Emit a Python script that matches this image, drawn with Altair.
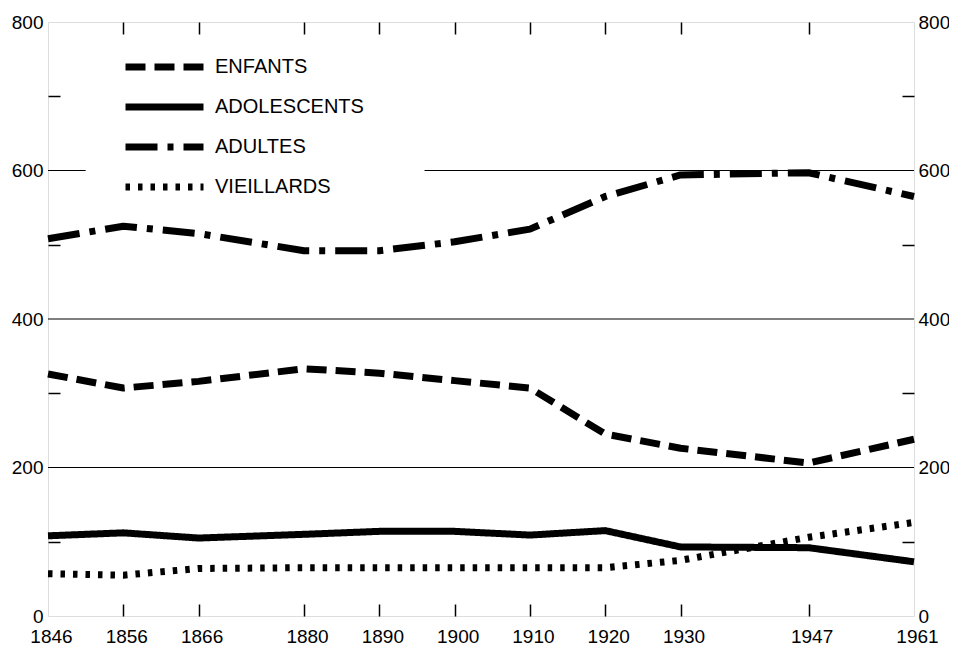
import altair as alt
import pandas as pd

years = [1846, 1856, 1866, 1880, 1890, 1900, 1910, 1920, 1930, 1947, 1961]
enfants = [326, 307, 316, 333, 327, 317, 307, 245, 226, 206, 238]
adolescents = [108, 112, 105, 110, 114, 114, 109, 115, 93, 92, 73]
adultes = [508, 525, 515, 492, 492, 504, 521, 565, 594, 597, 565]
vieillards = [57, 55, 64, 65, 65, 65, 65, 65, 75, 106, 126]

series_names = ["ENFANTS", "ADOLESCENTS", "ADULTES", "VIEILLARDS"]
series_values = [enfants, adolescents, adultes, vieillards]

year_labels = [1846, 1856, 1866, 1880, 1890, 1900, 1910, 1920, 1930, 1947, 1961]
inner_years = [1856, 1866, 1880, 1890, 1900, 1910, 1920, 1930, 1947]
y_labels = [0, 200, 400, 600, 800]
y_minor = [100, 300, 500, 700]

grid_y = [200, 400, 600, 600]
grid_x1 = [1846, 1846, 1846, 1896]
grid_x2 = [1961, 1961, 1851, 1961]

rows = []
for name, vals in zip(series_names, series_values):
    for yr, v in zip(years, vals):
        rows.append({"annee": yr, "valeur": v, "serie": name})
df = pd.DataFrame(rows)
grid = pd.DataFrame({"y": grid_y, "x1": grid_x1, "x2": grid_x2})

FONT = "Liberation Sans"
xscale = alt.Scale(domain=[1846, 1961], nice=False, zero=False)
yscale = alt.Scale(domain=[0, 800], nice=False)

grid_layer = alt.Chart(grid).mark_rule(color="black", strokeWidth=1.2).encode(
    x=alt.X("x1:Q", scale=xscale, axis=alt.Axis(
        orient="bottom", values=year_labels, ticks=False, domain=False, grid=False,
        labelPadding=11, labelFontSize=19, title=None, format="d", labelColor="black",
        labelFlush=False, labelOffset=3, labelBound=False, labelOverlap=False)),
    x2="x2:Q",
    y=alt.Y("y:Q", scale=yscale, axis=alt.Axis(
        orient="left", values=y_labels, ticks=False, domain=False, grid=False,
        labelPadding=5, labelFontSize=19, title=None, labelColor="black")),
)

lines = alt.Chart(df).mark_line(color="black", strokeJoin="round", interpolate="linear").encode(
    x=alt.X("annee:Q", scale=xscale, axis=alt.Axis(
        orient="bottom", values=inner_years, labels=False, domain=False, grid=False,
        tickSize=12, offset=-12, tickColor="black", tickWidth=1.5, title=None)),
    y=alt.Y("valeur:Q", scale=yscale, axis=alt.Axis(
        orient="right", values=y_labels, ticks=False, domain=False, grid=False,
        labelPadding=4, labelFontSize=19, title=None, labelColor="black")),
    strokeDash=alt.StrokeDash("serie:N", scale=alt.Scale(
        domain=series_names,
        range=[[20, 9], [1, 0], [32, 10, 6, 10], [4.5, 8]]),
        legend=alt.Legend(orient="none", legendX=74, legendY=34, title=None,
                          symbolType="stroke", symbolSize=6084, symbolStrokeWidth=6,
                          symbolStrokeColor="black", clipHeight=22, rowPadding=18,
                          labelFontSize=20, labelFont=FONT, labelOffset=8,
                          labelColor="black", padding=0)),
    strokeWidth=alt.StrokeWidth("serie:N", scale=alt.Scale(
        domain=series_names, range=[7, 7, 7, 4.5]), legend=None),
)

ticks_a = alt.Chart(df).mark_point(opacity=0).encode(
    x=alt.X("annee:Q", scale=xscale, axis=alt.Axis(
        orient="top", values=inner_years, labels=False, domain=False, grid=False,
        tickSize=12, offset=-12, tickColor="black", tickWidth=1.5, title=None)),
    y=alt.Y("valeur:Q", scale=yscale, axis=alt.Axis(
        orient="left", values=y_minor, labels=False, domain=False, grid=False,
        tickSize=12, offset=-12, tickColor="black", tickWidth=1.5, title=None)),
)

ticks_b = alt.Chart(df).mark_point(opacity=0).encode(
    x=alt.X("annee:Q", scale=xscale, axis=None),
    y=alt.Y("valeur:Q", scale=yscale, axis=alt.Axis(
        orient="right", values=y_minor, labels=False, domain=False, grid=False,
        tickSize=12, offset=-12, tickColor="black", tickWidth=1.5, title=None)),
)

chart = alt.layer(grid_layer, lines, ticks_a, ticks_b).resolve_axis(
    x="independent", y="independent"
).properties(
    width=866, height=594,
    padding={"left": 40, "top": 14, "right": 35, "bottom": 31},
    autosize=alt.AutoSizeParams(type="none"),
    background="white",
).configure_view(stroke="black", strokeWidth=2).configure(font=FONT)

chart.save("out.html", embed_options={"renderer": "svg", "actions": False})
